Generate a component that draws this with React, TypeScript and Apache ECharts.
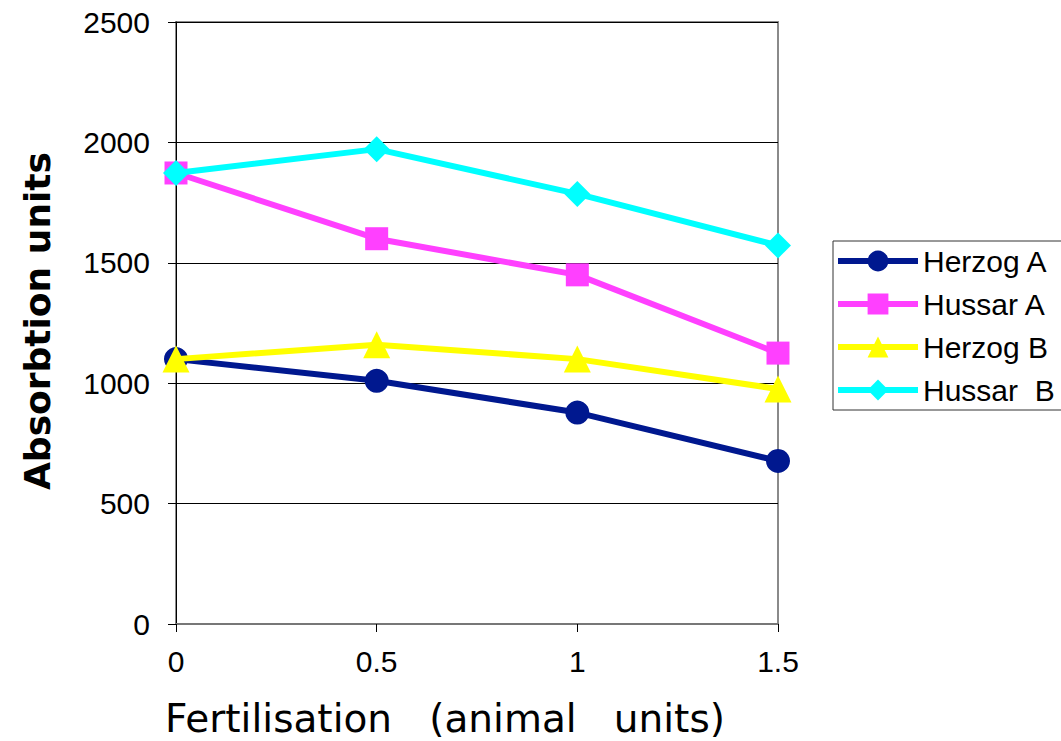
import React, { useEffect, useRef } from "react";
import * as echarts from "echarts";

const fertilisation = [0, 0.5, 1, 1.5];
const herzogA = [1100, 1010, 878, 677];
const hussarA = [1873, 1600, 1450, 1125];
const herzogB = [1100, 1160, 1100, 976];
const hussarB = [1873, 1972, 1786, 1572];
const seriesNames = ["Herzog A", "Hussar A", "Herzog B", "Hussar  B"];
const yTicks = [0, 500, 1000, 1500, 2000, 2500];

const colors = ["#00188F", "#FF40FF", "#FFFF00", "#00FFFF"];
const symbols = ["circle", "rect", "triangle", "diamond"];
const symbolSizes = [24, 23, 27, 26];

export default function App() {
  const ref = useRef<HTMLDivElement>(null);
  useEffect(() => {
    const chart = echarts.init(ref.current!, null, { renderer: "svg" });
    const all = [herzogA, hussarA, herzogB, hussarB];
    const series = all.map((vals, i) => ({
      name: seriesNames[i],
      type: "line",
      data: vals.map((v, j) => [fertilisation[j], v]),
      symbol: symbols[i],
      symbolSize: symbolSizes[i],
      lineStyle: { color: colors[i], width: 6 },
      itemStyle: { color: colors[i], borderWidth: 0 },
      z: 2 + i,
    }));
    chart.setOption({
      animation: false,
      backgroundColor: "#ffffff",
      textStyle: { fontFamily: "Liberation Sans" },
      grid: {
        left: 176,
        right: 1061 - 778,
        top: 22,
        bottom: 741 - 624,
        show: true,
        borderColor: "#8a8a8a",
        borderWidth: 2,
      },
      legend: {
        left: 833,
        top: 241,
        orient: "vertical",
        data: seriesNames,
        itemWidth: 80,
        itemHeight: 26,
        itemGap: 13,
        padding: [5, 8, 5, 2],
        borderColor: "#333",
        borderWidth: 1,
        lineStyle: { width: 6 },
        itemStyle: { borderWidth: 0 },
        textStyle: { fontSize: 30, color: "#000", fontFamily: "Liberation Sans" },
      },
      xAxis: {
        type: "value",
        min: 0,
        max: 1.5,
        interval: 0.5,
        axisLine: { show: true, lineStyle: { color: "#777", width: 2 } },
        axisTick: { show: true, length: 8, lineStyle: { color: "#000", width: 1 } },
        axisLabel: {
          fontSize: 30,
          color: "#000",
          margin: 22,
          fontFamily: "Liberation Sans",
          formatter: (v: number) => String(v),
        },
        splitLine: { show: false },
      },
      yAxis: {
        type: "value",
        min: yTicks[0],
        max: yTicks[yTicks.length - 1],
        interval: 500,
        axisLine: { show: true, lineStyle: { color: "#000", width: 1 } },
        axisTick: { show: true, length: 8, lineStyle: { color: "#000", width: 1 } },
        axisLabel: {
          fontSize: 30,
          color: "#000",
          margin: 26,
          fontFamily: "Liberation Sans",
          formatter: (v: number) => String(v),
        },
        splitLine: { show: true, lineStyle: { color: "#000", width: 1 } },
      },
      graphic: [
        {
          type: "text",
          x: 37,
          y: 321,
          rotation: Math.PI / 2,
          style: {
            text: "Absorbtion units",
            fontFamily: "DejaVu Sans",
            fontWeight: "bold",
            fontSize: 36,
            fill: "#000",
            align: "center",
            verticalAlign: "middle",
          },
        },
        {
          type: "text",
          x: 165,
          y: 718,
          style: {
            text: "Fertilisation   (animal   units)",
            fontFamily: "DejaVu Sans",
            fontSize: 39,
            fill: "#000",
            align: "left",
            verticalAlign: "middle",
          },
        },
      ],
      series,
    });
    return () => chart.dispose();
  }, []);
  return (
    <div
      ref={ref}
      style={{ position: "absolute", left: 0, top: 0, width: 1061, height: 741 }}
    />
  );
}
